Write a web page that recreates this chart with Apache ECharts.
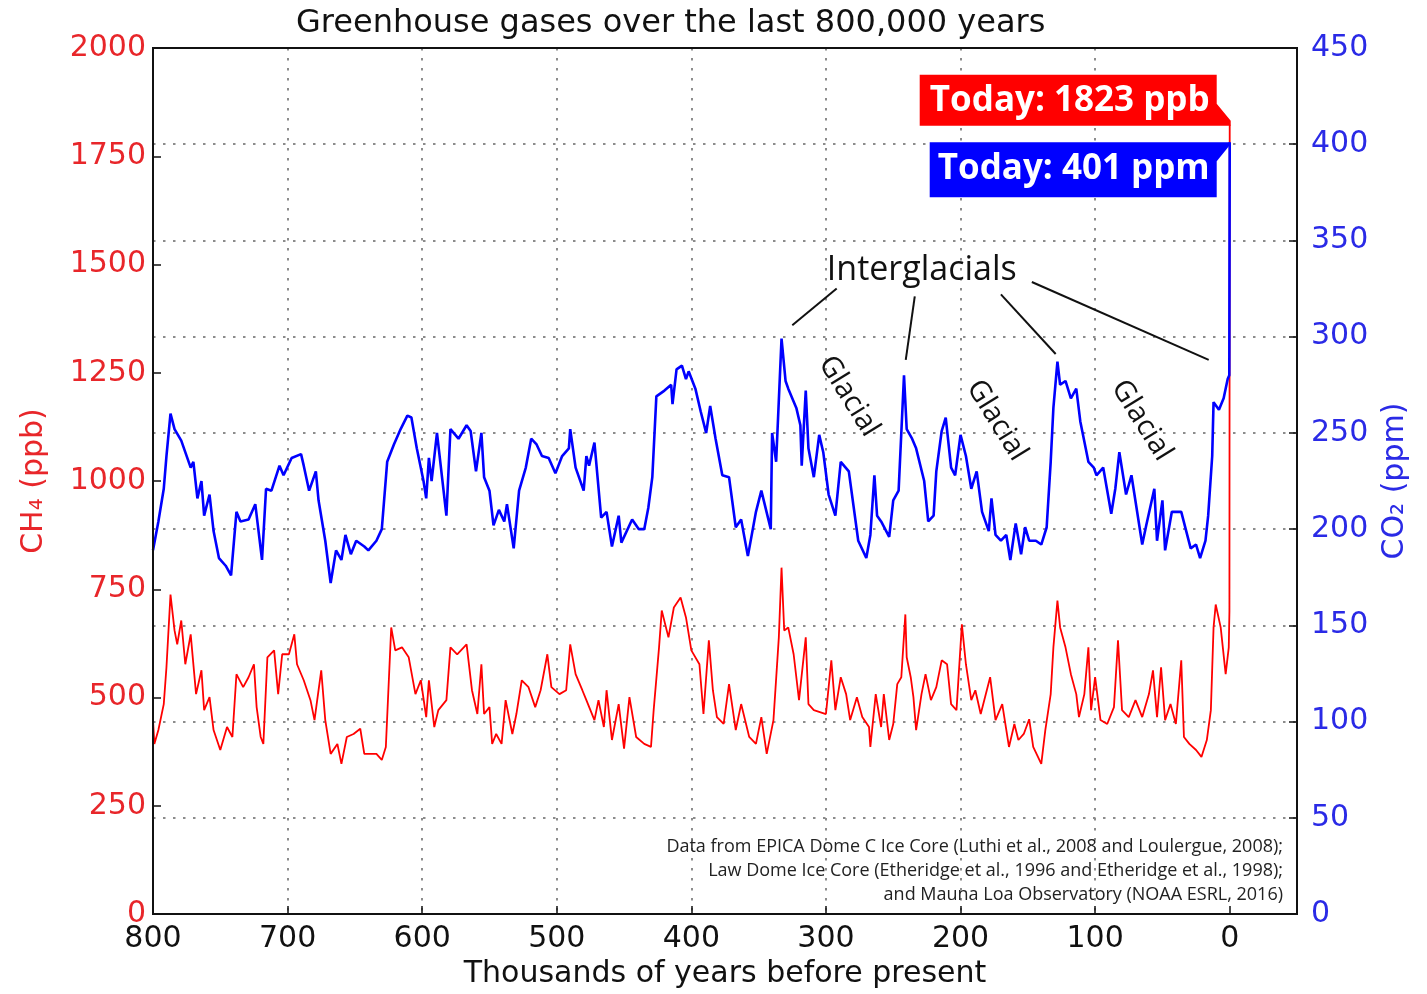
<!DOCTYPE html>
<html>
<head>
<meta charset="utf-8">
<script src="https://cdn.jsdelivr.net/npm/echarts@6/dist/echarts.min.js"></script>
<style>
  html, body { margin: 0; padding: 0; background: #fff; }
  #chart { width: 1427px; height: 994px; }
</style>
</head>
<body>
<div id="chart"></div>
<script>
// Ice-core greenhouse gas record, thousands of years before present.
const co2Years = [800,796,792,790,787,784,779,772,770,767,764,762,758,755,751,746,742,738,735,729,724,719,716,712,706,703,697,690,688,684,679,677,672,668,664,660,657,653,649,643,640,634,630,626,621,616,611,608,604,599,597,595,593,589,582,579,573,567,564,560,556,554,550,547,543,539,537,532,528,523,519,515,511,506,501,496,491,490,486,480,478,476,472,467,463,459,454,452,444,439,435,432,429,426,420,415,414,411,407,404,402,397,393,389,386,382,377,372,367,363,358,352,348,341,340,337,333,330,328,322,319,318,315,313,309,305,302,298,293,289,283,276,270,267,264,262,259,253,250,246,242,240,236,233,227,224,220,218,214,211,209,207,204,200,196,192,188,184,179,177,174,170,166,163,159,155,152,149,144,140,136,133,131,128,126,122,118,114,111,107,105,101,99,94,88,85,82,77,73,65,62,56,54,50,48,43,36,29,25,22,18,16,13,12,8,4.5,1.5,0.3,0];
const co2Values = [189,204,221,238,260,252,246,232,235,216,225,207,218,199,185,181,176,209,204,205,213,184,221,220,233,228,237,239,233,220,230,215,194,172,189,184,197,187,194,191,189,194,200,235,244,252,259,258,242,225,216,237,225,250,207,252,247,254,251,230,250,227,220,202,210,204,213,190,220,232,247,244,238,237,229,238,242,252,232,220,238,233,245,206,209,191,207,193,205,200,200,211,227,269,272,275,265,283,285,278,282,273,261,250,264,247,228,227,201,205,186,209,220,200,250,235,299,277,273,263,254,233,272,242,227,249,240,218,207,235,230,194,185,197,228,207,204,196,215,220,280,252,247,242,225,204,207,230,251,258,245,232,228,249,238,221,230,209,199,216,197,194,197,184,203,187,201,194,194,192,201,235,263,287,275,277,268,273,256,242,235,232,228,232,208,221,240,218,228,192,202,221,194,215,189,209,209,190,192,185,194,207,238,266,262,268,278,280,401];

const ch4Years = [800,799,796,792,790,787,784,782,779,776,772,768,764,762,758,755,750,745,741,738,733,729,725,723,720,718,715,710,707,704,699,695,693,688,683,680,675,672,668,663,660,656,651,646,643,634,630,627,623,620,615,610,605,601,597,595,591,588,582,579,574,567,563,559,556,554,550,548,545,541,538,533,530,526,521,516,512,507,504,498,493,490,486,481,478,472,469,465,463,459,454,450,446,441,435,430,428,424,422,417,413,408,404,400,394,391,387,384,381,376,372,367,363,357,352,348,344,339,335,333,331,328,324,320,315,313,309,300,296,293,289,285,282,277,273,268,267,263,259,257,253,250,247,244,241,240,237,235,233,229,226,222,218,214,210,207,203,199,196,192,189,185,178,174,169,164,160,157,153,149,146,140,137,133,131,128,126,122,118,114,112,108,105,103,100,96,91,86,83,80,75,70,65,60,57,54,51,48,44,40,36,34,30,25,21,17,14,12,10.4,6.7,3,0.7,0.2,0];
const ch4Values = [448,393,425,485,570,738,655,623,678,577,646,508,563,471,501,425,379,432,409,554,524,547,577,478,409,393,593,609,508,600,600,646,577,540,494,448,563,448,370,393,347,409,416,428,370,370,356,386,662,609,616,593,508,540,455,540,432,471,494,616,600,623,517,462,577,462,478,393,416,393,494,416,462,540,524,478,517,600,524,508,517,623,554,517,494,448,494,432,517,402,485,382,501,409,393,386,471,616,701,639,708,731,685,609,577,462,632,517,455,439,531,425,485,409,393,455,370,448,639,800,655,662,600,494,639,485,471,462,586,471,547,508,448,501,455,432,386,508,432,508,402,439,531,547,692,593,547,501,425,508,554,494,524,586,577,485,471,669,577,494,517,462,547,448,485,386,439,402,416,450,386,347,425,508,616,724,662,616,554,508,455,508,616,471,547,448,439,478,632,471,455,494,455,508,563,455,570,448,485,439,586,409,393,379,363,402,471,662,715,662,554,616,700,1823];

const yearTicks = [0, 100, 200, 300, 400, 500, 600, 700, 800];

// Annotation anchors in data units [years, CO2 ppm]
const interglacialLabelAt = [228.8, 334.6];
const interglacialPointers = [
  [[292, 325], [325, 306]],
  [[234, 321], [240.7, 288]],
  [[170, 322], [129.3, 291]],
  [[147, 328.4], [15.6, 288]]
];
const glacialLabelsAt = [[283, 269], [173, 256.5], [65.4, 256.5]];

const sourceLines = [
  'Data from EPICA Dome C Ice Core (Luthi et al., 2008 and Loulergue, 2008);',
  'Law Dome Ice Core (Etheridge et al., 1996 and Etheridge et al., 1998);',
  'and Mauna Loa Observatory (NOAA ESRL, 2016)'
];

const RED = '#ff0000';
const BLUE = '#0000ff';
const RED_TEXT = '#e8262a';
const BLUE_TEXT = '#2a2ae6';
const INK = '#111111';
const GRID_DOTS = { color: '#8c8c8c', width: 2, type: [2.5, 7.5] };
const plain = (v) => String(v);

const zip = (xs, ys) => xs.map((x, i) => [x, ys[i]]);

const chart = echarts.init(document.getElementById('chart'), null, { renderer: 'canvas' });

chart.setOption({
  animation: false,
  backgroundColor: '#ffffff',
  title: {
    text: 'Greenhouse gases over the last 800,000 years',
    left: 291,
    top: 3,
    textStyle: { fontFamily: 'DejaVu Sans', fontSize: 32, fontWeight: 'normal', color: INK }
  },
  grid: {
    left: 153, right: 130, top: 48, bottom: 76,
    show: true, borderColor: INK, borderWidth: 2, backgroundColor: 'transparent', z: 10
  },
  xAxis: {
    type: 'value',
    inverse: true,
    min: -50,
    max: 800,
    name: 'Thousands of years before present',
    nameLocation: 'middle',
    nameGap: 42,
    nameTextStyle: { fontFamily: 'DejaVu Sans', fontSize: 30, color: INK },
    axisLine: { show: true, lineStyle: { color: INK, width: 2 } },
    axisTick: { show: true, inside: true, length: 8, customValues: yearTicks, lineStyle: { color: INK, width: 1.5 } },
    axisLabel: { customValues: yearTicks, margin: 10, fontFamily: 'DejaVu Sans', fontSize: 30, color: INK, formatter: plain },
    splitLine: { show: true, showMinLine: false, showMaxLine: false, lineStyle: GRID_DOTS }
  },
  yAxis: [
    {
      type: 'value',
      position: 'left',
      min: 0, max: 2000, interval: 250,
      name: 'CH\u2084 (ppb)',
      nameLocation: 'middle',
      nameRotate: 90,
      nameGap: 104,
      nameTextStyle: { fontFamily: 'DejaVu Sans', fontSize: 30, color: RED_TEXT },
      axisLine: { show: true, onZero: false, lineStyle: { color: INK, width: 2 } },
      axisTick: { show: true, inside: true, length: 8, lineStyle: { color: INK, width: 1.5 } },
      axisLabel: { margin: 7, fontFamily: 'DejaVu Sans', fontSize: 30, color: RED_TEXT, formatter: plain },
      splitLine: { show: false }
    },
    {
      type: 'value',
      position: 'right',
      min: 0, max: 450, interval: 50,
      name: 'CO\u2082 (ppm)',
      nameLocation: 'middle',
      nameRotate: 90,
      nameGap: 83,
      nameTextStyle: { fontFamily: 'DejaVu Sans', fontSize: 30, color: BLUE_TEXT },
      axisLine: { show: true, onZero: false, lineStyle: { color: INK, width: 2 } },
      axisTick: { show: true, inside: true, length: 8, lineStyle: { color: INK, width: 1.5 } },
      axisLabel: { margin: 14, fontFamily: 'DejaVu Sans', fontSize: 30, color: BLUE_TEXT, formatter: plain },
      splitLine: { show: true, showMinLine: false, showMaxLine: false, lineStyle: GRID_DOTS }
    }
  ],
  series: [
    {
      name: 'CH4',
      type: 'line',
      yAxisIndex: 0,
      data: zip(ch4Years, ch4Values),
      showSymbol: false,
      lineStyle: { color: RED, width: 1.8 },
      itemStyle: { color: RED },
      z: 3
    },
    {
      name: 'CO2',
      type: 'line',
      yAxisIndex: 1,
      data: zip(co2Years, co2Values),
      showSymbol: false,
      lineStyle: { color: BLUE, width: 2.6 },
      itemStyle: { color: BLUE },
      z: 4,
      markLine: {
        silent: true,
        symbol: ['none', 'none'],
        label: { show: false },
        lineStyle: { color: INK, width: 2, type: 'solid' },
        emphasis: { disabled: true },
        data: interglacialPointers.map(([a, b]) => [{ coord: a }, { coord: b }])
      }
    }
  ]
});

// Text annotations and "today" call-outs, placed through the axes' own scales.
function drawAnnotations() {
  const toPx = (pt, yAxisIndex) => chart.convertToPixel({ xAxisIndex: 0, yAxisIndex }, pt);
  const lastCh4 = toPx([ch4Years[ch4Years.length - 1], ch4Values[ch4Values.length - 1]], 0);
  const lastCo2 = toPx([co2Years[co2Years.length - 1], co2Values[co2Values.length - 1]], 1);
  const [rx, ry] = lastCh4;
  const [bx, by] = lastCo2;
  const calloutFont = 'bold 35px "Open Sans", sans-serif';

  const elements = [
    {
      type: 'polygon', z: 100,
      shape: { points: [[rx - 310, ry - 50], [rx - 13, ry - 50], [rx - 13, ry - 21], [rx + 1, ry - 4], [rx + 1, ry + 1], [rx - 310, ry + 1]] },
      style: { fill: RED }
    },
    {
      type: 'text', z: 101, x: rx - 160, y: ry - 24,
      style: { text: 'Today: ' + ch4Values[ch4Values.length - 1] + ' ppb', fill: '#ffffff', font: calloutFont, textAlign: 'center', textVerticalAlign: 'middle' }
    },
    {
      type: 'polygon', z: 100,
      shape: { points: [[bx - 300, by], [bx, by], [bx, by + 3], [bx - 13, by + 19], [bx - 13, by + 55], [bx - 300, by + 55]] },
      style: { fill: BLUE }
    },
    {
      type: 'text', z: 101, x: bx - 156, y: by + 27,
      style: { text: 'Today: ' + co2Values[co2Values.length - 1] + ' ppm', fill: '#ffffff', font: calloutFont, textAlign: 'center', textVerticalAlign: 'middle' }
    }
  ];

  const ig = toPx(interglacialLabelAt, 1);
  elements.push({
    type: 'text', z: 50, x: ig[0], y: ig[1],
    style: { text: 'Interglacials', fill: INK, font: '34px "Open Sans", sans-serif', textAlign: 'center', textVerticalAlign: 'middle' }
  });

  glacialLabelsAt.forEach((pt) => {
    const [gx, gy] = toPx(pt, 1);
    elements.push({
      type: 'text', z: 50, x: gx, y: gy, rotation: -58 * Math.PI / 180,
      style: { text: 'Glacial', fill: INK, font: '29px "Open Sans", sans-serif', textAlign: 'center', textVerticalAlign: 'middle' }
    });
  });

  sourceLines.forEach((line, i) => {
    elements.push({
      type: 'text', z: 50, x: 1283, y: 847 + i * 24,
      style: { text: line, fill: '#222222', font: '18px "Open Sans", sans-serif', textAlign: 'right', textVerticalAlign: 'middle' }
    });
  });

  chart.setOption({ graphic: elements });
}

drawAnnotations();
</script>
</body>
</html>
